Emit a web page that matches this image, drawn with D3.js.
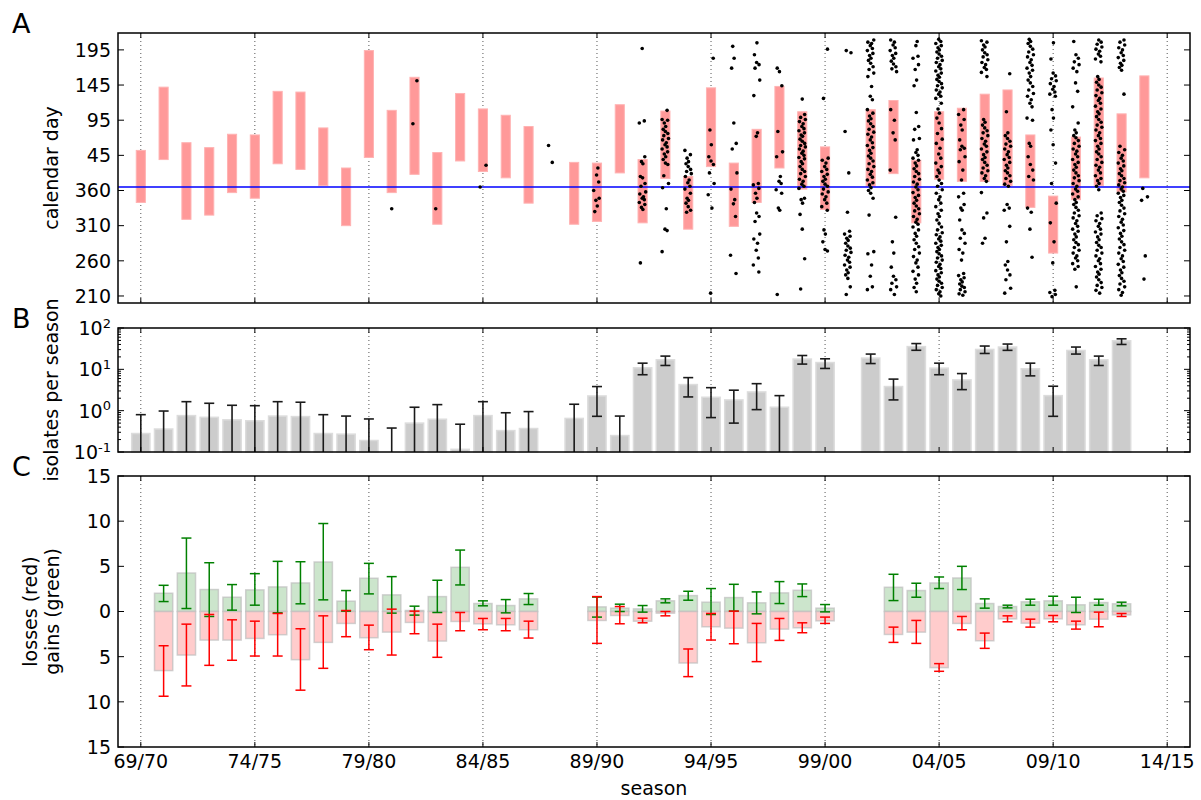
<!DOCTYPE html>
<html>
<head>
<meta charset="UTF-8">
<title>Isolates per season</title>
<script src="https://d3js.org/d3.v7.min.js"></script>
<style>
	body { margin: 0; background: #fff; }
	text { font-family: "DejaVu Sans", sans-serif; fill: #000; }
</style>
</head>
<body>
<script>

// ---- Panel A: season span (days counted from 1 Jan of the season's first year) ----
var spanSeasons = [1969,1970,1971,1972,1973,1974,1975,1976,1977,1978,1979,1980,1981,1982,1983,1984,1985,1986,
	1988,1989,1990,1991,1992,1993,1994,1995,1996,1997,1998,1999,
	2001,2002,2003,2004,2005,2006,2007,2008,2009,2010,2011,2012,2013];
var spanStart = [343,404,319,325,357,349,398,390,367,310,407,357,383,312,402,387,378,342,
	312,316,385,314,377,305,394,309,343,392,362,333,
	366,384,314,376,373,373,367,336,271,347,367,358,378];
var spanEnd = [417,507,428,421,440,439,501,500,449,392,559,474,521,414,498,476,467,451,
	400,399,482,404,473,380,506,399,447,508,472,422,
	475,488,403,472,477,497,503,439,352,436,520,469,523];

// isolation dates per season (same day count)
var isolateSeasons = [1980,1981,1982,1984,1987,1989,1991,1992,1993,1994,1995,1996,1997,1998,1999,
	2000,2001,2002,2003,2004,2005,2006,2007,2008,2009,2010,2011,2012,2013];
var isolateDays = [
	[334],
	[516,455],
	[334],
	[396,365],
	[424,400],
	[392,382,372,360,349,346,338,330],
	[562,459,456,408,401,398,380,378,370,366,358,355,351,349,347,343,340,336,333,257],
	[474,461,460,456,451,447,444,441,438,434,432,428,425,422,419,415,412,408,404,399,397,381,370,364,334,305,303,273],
	[417,411,406,401,398,394,390,387,384,380,375,371,366,362,356,349,346,342,337,332,329],
	[548,446,425,408,402,397,385,370,354,335,214],
	[565,548,534,456,427,419,385,362,347,341,323,268,242],
	[570,553,542,539,534,517,495,442,437,370,368,363,356,349,343,328,323,316,298,291,285,275,264,254,244],
	[534,529,509,444,415,408,380,373,370,361,356,335,332,212],
	[490,468,464,461,458,455,451,448,445,442,439,437,433,430,427,424,422,419,416,413,410,407,405,401,398,394,390,387,384,380,376,373,369,366,363,349,347,342,326,305,263,220],
	[561,491,406,403,399,394,390,387,383,380,376,373,369,366,362,358,355,351,347,342,337,332,304,298,287,276,274],
	[559,556,444,385,329,302,298,295,292,289,285,281,278,275,272,268,265,261,258,254,251,247,243,240,235,223,212],
	[574,571,569,566,562,559,555,552,548,545,541,536,532,527,522,508,494,489,475,470,466,462,459,455,451,447,443,440,436,432,428,424,421,417,413,409,406,402,398,394,390,387,383,379,375,371,368,364,360,356,349,325,273,270,254,238,223,219],
	[574,571,567,563,559,555,552,548,544,540,536,533,529,475,460,442,432,389,322,287,271,251,238,233,228,223,219,212],
	[572,566,551,548,539,532,517,509,471,451,447,434,432,418,414,410,406,403,399,395,391,387,384,380,376,372,369,365,361,357,353,350,346,342,338,334,331,327,323,319,315,312,308,304,299,295,290,285,280,276,271,266,261,257,251,245,240,234,228,222,216],
	[575,572,569,566,563,560,557,554,551,548,545,542,539,536,533,530,527,524,521,518,515,512,509,506,503,500,497,494,491,
	 484,476,470,463,456,448,441,433,427,420,412,406,399,394,389,385,380,375,370,366,361,356,351,347,342,337,332,327,323,318,313,308,304,
	 300,297,294,291,288,285,282,279,276,273,270,267,264,261,258,255,252,249,246,243,240,237,234,231,228,225,222,219,216,213,210],
	[475,468,461,453,446,432,423,420,418,408,401,389,375,356,351,340,335,332,318,304,299,292,285,276,271,261,242,239,236,233,230,227,224,222,219,216,213,211],
	[573,571,567,564,560,556,553,550,546,542,539,535,532,528,522,461,457,453,449,445,442,438,434,430,426,423,419,415,411,407,404,400,396,392,388,385,381,377,373,357,328,321,292,285],
	[526,472,442,438,434,430,426,423,419,415,411,407,404,400,396,392,388,385,381,377,373,369,366,340,335,332,309,287,259,254,247,240,233,221,214],
	[575,572,569,565,561,557,553,550,546,542,538,534,531,527,522,517,513,508,503,498,494,489,484,479,463,460,427,423,408,397,389,380,375,335,329,305,265],
	[570,547,527,523,519,516,512,508,504,500,497,494,475,463,446,425,399,370,342,314,287,257,218,215,212,209],
	[572,553,548,543,539,534,529,513,501,479,456,446,442,438,435,431,427,423,419,416,412,408,404,400,397,393,389,385,381,378,374,370,366,362,359,355,351,347,343,340,336,332,328,324,321,317,313,309,305,302,298,294,290,286,283,279,275,271,267,264,260,256,252,248,223],
	[574,571,568,564,561,558,554,551,547,543,
	 522,518,514,510,507,503,499,495,491,488,484,480,476,472,469,465,461,457,453,450,446,442,438,434,431,427,423,419,415,412,408,404,400,396,393,389,385,381,377,374,370,366,361,
	 328,324,320,317,313,309,305,301,298,294,290,286,282,279,275,271,267,263,260,256,252,248,244,241,237,233,229,225,222,218,214],
	[574,571,567,563,560,556,552,549,545,541,538,535,531,497,
	 423,418,414,410,406,402,399,395,391,388,384,381,377,374,371,368,365,362,359,356,353,350,346,343,339,335,331,327,323,319,315,311,307,303,299,295,291,287,283,279,275,271,267,263,259,255,251,247,243,239,235,231,227,223,219,215,211],
	[363,351,346,267,234]
];

// ---- Panel B: isolates per season (mean, error bounds; 0 = off the axis) ----
var countSeasons = [1969,1970,1971,1972,1973,1974,1975,1976,1977,1978,1979,1980,1981,1982,1983,1984,1985,1986,
	1988,1989,1990,1991,1992,1993,1994,1995,1996,1997,1998,1999,
	2001,2002,2003,2004,2005,2006,2007,2008,2009,2010,2011,2012];
var countMean = [0.28,0.36,0.76,0.69,0.60,0.57,0.74,0.72,0.28,0.27,0.19,0,0.50,0.62,0.116,0.76,0.33,0.37,
	0.65,2.27,0.25,10.9,17.0,4.28,2.11,1.82,2.84,1.21,17.7,14.6,
	18.7,3.83,35.5,10.7,5.56,30.3,34.6,10.3,2.31,28.6,17.0,49];
var countLo = [0,0,0,0,0,0,0,0,0,0,0,0,0,0,0,0,0,0,
	0,0.73,0,7.4,12.4,2.15,0.68,0.50,1.06,0,13.4,10.5,
	13.8,1.82,28.9,7.4,3.23,24.2,28.8,6.95,0.73,23.4,12.4,40];
var countHi = [0.80,0.98,1.65,1.51,1.35,1.32,1.65,1.60,0.80,0.74,0.63,0.38,1.21,1.40,0.47,1.65,0.89,0.95,
	1.43,3.83,0.74,14.1,20.9,6.3,3.6,3.13,4.5,2.31,21.6,18.0,
	23.4,5.8,42,14.1,7.9,36.6,40.9,14.1,3.9,34.6,20.9,54.7];

// ---- Panel C: gains (up) and losses (down, as magnitudes) ----
var changeSeasons = [1970,1971,1972,1973,1974,1975,1976,1977,1978,1979,1980,1981,1982,1983,1984,1985,1986,
	1989,1990,1991,1992,1993,1994,1995,1996,1997,1998,1999,
	2002,2003,2004,2005,2006,2007,2008,2009,2010,2011,2012];
var gains = [2.02,4.26,2.43,1.58,2.39,2.72,3.16,5.48,1.14,3.68,1.84,0.11,1.65,4.89,0.88,0.66,1.40,
	0.51,0.37,0.29,1.18,1.76,1.03,1.54,0.96,2.06,2.35,0.37,
	2.68,2.32,3.16,3.71,0.88,0.55,1.07,1.18,0.74,0.99,0.85];
var gainLo = [1.1,0.33,-0.55,0.15,0.70,-0.15,0.85,1.29,0.04,1.95,-0.18,-0.40,-0.11,2.94,0.63,-0.15,0.77,
	-0.62,0,-0.07,0.96,1.25,-0.33,0.04,-0.26,0.88,1.65,-0.04,
	1.21,1.58,2.54,2.43,0.37,0.40,0.70,0.70,-0.11,0.70,0.63];
var gainHi = [2.9,8.13,5.40,2.98,4.19,5.55,5.51,9.74,2.32,5.33,3.86,0.59,3.46,6.80,1.18,1.32,1.99,
	1.6,0.81,0.66,1.40,2.24,2.54,3.01,2.17,3.31,3.05,0.77,
	4.12,3.13,3.82,5.0,1.40,0.70,1.36,1.69,1.58,1.36,1.03];
var losses = [6.54,4.82,3.16,3.16,2.98,2.57,5.33,3.42,1.32,2.90,2.28,1.21,3.27,1.10,1.36,1.47,2.02,
	0.99,0.44,1.07,0.18,5.70,1.69,1.84,3.46,1.95,1.80,1.03,
	2.54,2.28,6.21,1.32,3.24,0.81,1.29,0.81,1.47,0.85,0.37];
var lossLo = [3.79,1.40,0.33,0.92,1.07,0.22,1.91,0.48,-0.11,1.51,-0.26,-0.04,1.40,0.11,0.77,0.77,1.07,
	-1.65,-0.55,0.74,0,4.15,0.22,-0.04,1.32,0.77,1.25,0.62,
	1.73,0.99,5.77,0.55,2.39,0.48,0.85,0.44,1.07,0.07,0.22];
var lossHi = [9.38,8.24,5.96,5.40,4.93,4.93,8.71,6.29,2.79,4.23,4.82,2.46,5.07,2.13,2.02,2.13,2.94,
	3.53,1.36,1.25,0.48,7.21,3.16,3.57,5.55,3.20,2.35,1.32,
	3.42,3.53,6.62,2.02,4.08,1.14,1.73,1.14,1.95,1.69,0.55];

// ---- axis ticks ----
var seasonTicks = [1969,1974,1979,1984,1989,1994,1999,2004,2009,2014];
var dayTicks = [210,260,310,360,410,460,510,560];
var countTicks = [0.1,1,10,100];
var changeTicks = [-15,-10,-5,0,5,10,15];

// sideways spread of the dots inside a season column (px)
var dotSpread = [0, 2.4, -1.6, 3.1, -2.8, 0.9, -0.4, 1.7, -3.3, 2.2, -1.1, 0.3, -2.2];

// ---- layout ----
var left = 118, right = 1190;
var A = {top: 33, bottom: 303},
	B = {top: 328, bottom: 452},
	C = {top: 476, bottom: 747};

var svg = d3.select("body").append("svg")
	.attr("width", 1201)
	.attr("height", 800);

var x = d3.scaleLinear().domain([1968, 2015]).range([left, right]);
var yA = d3.scaleLinear().domain([200, 584]).range([A.bottom, A.top]);
var yB = d3.scaleLog().domain([0.1, 100]).range([B.bottom, B.top]);
var yC = d3.scaleLinear().domain([-15, 15]).range([C.bottom, C.top]);

function seasonLabel(s) {
	return String(s % 100).padStart(2, "0") + "/" + String((s + 1) % 100).padStart(2, "0");
}

// dotted vertical grid at the season ticks
function grid(p) {
	svg.append("g").selectAll("line").data(seasonTicks).join("line")
		.attr("x1", d => x(d)).attr("x2", d => x(d))
		.attr("y1", p.top).attr("y2", p.bottom)
		.attr("stroke", "#555").attr("stroke-width", 1)
		.attr("stroke-dasharray", "1,3");
}

// frame with inward ticks on all four sides
function frame(p, yScale, yTicks, minorTicks) {
	var g = svg.append("g").attr("stroke", "#000").attr("stroke-width", 1);
	seasonTicks.forEach(function(t) {
		g.append("line").attr("x1", x(t)).attr("x2", x(t)).attr("y1", p.top).attr("y2", p.top + 5);
		g.append("line").attr("x1", x(t)).attr("x2", x(t)).attr("y1", p.bottom - 5).attr("y2", p.bottom);
	});
	yTicks.forEach(function(t) {
		g.append("line").attr("x1", left).attr("x2", left + 6).attr("y1", yScale(t)).attr("y2", yScale(t));
		g.append("line").attr("x1", right - 6).attr("x2", right).attr("y1", yScale(t)).attr("y2", yScale(t));
	});
	(minorTicks || []).forEach(function(t) {
		g.append("line").attr("x1", left).attr("x2", left + 3).attr("y1", yScale(t)).attr("y2", yScale(t));
		g.append("line").attr("x1", right - 3).attr("x2", right).attr("y1", yScale(t)).attr("y2", yScale(t));
	});
	svg.append("rect")
		.attr("x", left).attr("y", p.top)
		.attr("width", right - left).attr("height", p.bottom - p.top)
		.attr("fill", "none").attr("stroke", "#000").attr("stroke-width", 1.5);
}

// ================= Panel A =================
grid(A);

svg.append("g").selectAll("rect").data(spanSeasons).join("rect")
	.attr("x", d => x(d - 0.2))
	.attr("width", x(1969.4) - x(1969))
	.attr("y", (d, i) => yA(spanEnd[i]))
	.attr("height", (d, i) => yA(spanStart[i]) - yA(spanEnd[i]))
	.attr("fill", "#ff9999")
	.attr("stroke", "#ffb3b3").attr("stroke-width", 1);

svg.append("line")
	.attr("x1", left).attr("x2", right)
	.attr("y1", yA(365)).attr("y2", yA(365))
	.attr("stroke", "#0000ff").attr("stroke-width", 1.5);

var dots = [];
isolateSeasons.forEach(function(s, k) {
	isolateDays[k].forEach(function(v, i) {
		dots.push({season: s, day: v, off: dotSpread[(i + k) % dotSpread.length]});
	});
});
svg.append("g").selectAll("circle").data(dots).join("circle")
	.attr("cx", d => x(d.season) + d.off)
	.attr("cy", d => yA(d.day))
	.attr("r", 1.8)
	.attr("fill", "#000");

frame(A, yA, dayTicks);

svg.append("g").selectAll("text").data(dayTicks).join("text")
	.attr("x", 111).attr("y", d => yA(d)).attr("dy", "0.36em")
	.attr("text-anchor", "end").style("font-size", "19px")
	.text(d => d > 365 ? d - 365 : d);

// ================= Panel B =================
grid(B);

svg.append("g").selectAll("rect").data(countSeasons).join("rect")
	.attr("x", d => x(d - 0.4))
	.attr("width", x(1969.8) - x(1969))
	.attr("y", (d, i) => yB(Math.max(countMean[i], 0.1)))
	.attr("height", (d, i) => B.bottom - yB(Math.max(countMean[i], 0.1)))
	.attr("fill", "#cccccc")
	.attr("stroke", "#dcdcdc").attr("stroke-width", 1.5);

var errB = svg.append("g").attr("stroke", "#1a1a1a").attr("stroke-width", 1.6);
countSeasons.forEach(function(s, i) {
	var cx = x(s), lo = countLo[i] > 0.1 ? yB(countLo[i]) : B.bottom, hi = yB(countHi[i]);
	errB.append("line").attr("x1", cx).attr("x2", cx).attr("y1", lo).attr("y2", hi);
	errB.append("line").attr("x1", cx - 5).attr("x2", cx + 5).attr("y1", hi).attr("y2", hi);
	if (countLo[i] > 0.1)
		errB.append("line").attr("x1", cx - 5).attr("x2", cx + 5).attr("y1", lo).attr("y2", lo);
});

var minorB = [];
[0.1, 1, 10].forEach(function(dec) {
	[2,3,4,5,6,7,8,9].forEach(function(m) { minorB.push(dec * m); });
});
frame(B, yB, countTicks, minorB);

var expLabels = {0.1: "-1", 1: "0", 10: "1", 100: "2"};
countTicks.forEach(function(t) {
	var tx = svg.append("text")
		.attr("x", 111).attr("y", yB(t)).attr("dy", "0.36em")
		.attr("text-anchor", "end").style("font-size", "19px");
	tx.append("tspan").text("10");
	tx.append("tspan").attr("dy", "-0.55em").style("font-size", "13px").text(expLabels[t]);
});

// ================= Panel C =================
grid(C);

var barW = x(1969.8) - x(1969);
svg.append("g").selectAll("rect").data(changeSeasons).join("rect")
	.attr("x", d => x(d - 0.4)).attr("width", barW)
	.attr("y", (d, i) => yC(gains[i]))
	.attr("height", (d, i) => yC(0) - yC(gains[i]))
	.attr("fill", "#cce5cc")
	.attr("stroke", "#bdbdbd").attr("stroke-opacity", 0.7).attr("stroke-width", 1.5);

svg.append("g").selectAll("rect").data(changeSeasons).join("rect")
	.attr("x", d => x(d - 0.4)).attr("width", barW)
	.attr("y", yC(0))
	.attr("height", (d, i) => yC(-losses[i]) - yC(0))
	.attr("fill", "#ffcccc")
	.attr("stroke", "#bdbdbd").attr("stroke-opacity", 0.7).attr("stroke-width", 1.5);

function errC(color, lo, hi) {
	var g = svg.append("g").attr("stroke", color).attr("stroke-width", 1.5);
	changeSeasons.forEach(function(s, i) {
		var cx = x(s), y1 = yC(lo[i]), y2 = yC(hi[i]);
		g.append("line").attr("x1", cx).attr("x2", cx).attr("y1", y1).attr("y2", y2);
		g.append("line").attr("x1", cx - 5).attr("x2", cx + 5).attr("y1", y1).attr("y2", y1);
		g.append("line").attr("x1", cx - 5).attr("x2", cx + 5).attr("y1", y2).attr("y2", y2);
	});
}
errC("#008000", gainLo, gainHi);
errC("#ff0000", lossLo.map(v => -v), lossHi.map(v => -v));

frame(C, yC, changeTicks);

svg.append("g").selectAll("text").data(changeTicks).join("text")
	.attr("x", 111).attr("y", d => yC(d)).attr("dy", "0.36em")
	.attr("text-anchor", "end").style("font-size", "19px")
	.text(d => Math.abs(d));

svg.append("g").selectAll("text").data(seasonTicks).join("text")
	.attr("x", d => x(d)).attr("y", 768)
	.attr("text-anchor", "middle").style("font-size", "19px")
	.text(seasonLabel);

// ================= labels =================
svg.append("text").attr("x", (left + right) / 2).attr("y", 795)
	.attr("text-anchor", "middle").style("font-size", "19px").text("season");

svg.append("text").attr("transform", "translate(58," + (A.top + A.bottom) / 2 + ") rotate(-90)")
	.attr("text-anchor", "middle").style("font-size", "19px").text("calendar day");

svg.append("text").attr("transform", "translate(58," + (B.top + B.bottom) / 2 + ") rotate(-90)")
	.attr("text-anchor", "middle").style("font-size", "19px").text("isolates per season");

var lc = svg.append("text").attr("transform", "translate(37," + yC(0) + ") rotate(-90)")
	.attr("text-anchor", "middle").style("font-size", "19px");
lc.append("tspan").attr("x", 0).text("losses (red)");
lc.append("tspan").attr("x", 0).attr("dy", "1.15em").text("gains (green)");

[["A", 33], ["B", 328], ["C", 476]].forEach(function(p) {
	svg.append("text").attr("x", 12).attr("y", p[1])
		.style("font-size", "27px").text(p[0]);
});

</script>
</body>
</html>
